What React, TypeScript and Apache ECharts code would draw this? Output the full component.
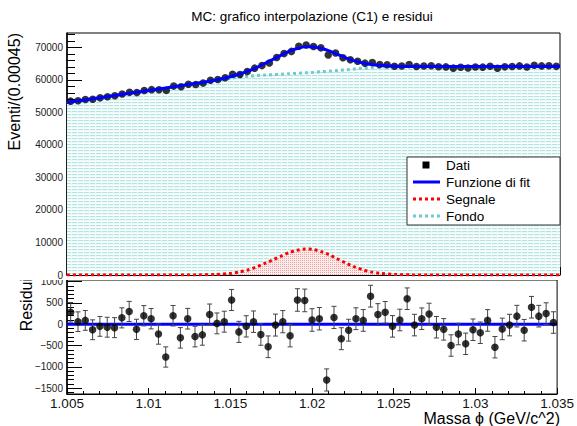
import React, { useEffect, useRef } from "react";
import * as echarts from "echarts";

// Histogram binning of the mass spectrum
const massMin = 1.005;
const massMax = 1.035;
const nBins = 67;

// Counts per bin (Dati)
const counts = [
  53450, 53560, 53930, 54050, 54460, 54780, 55100, 55670, 56150, 56070,
  56730, 56990, 56970, 56760, 58070, 57880, 58670, 58590, 59000, 59890,
  60120, 60640, 61720, 61660, 62550, 63590, 64380, 65200, 66860, 68060,
  68740, 70300, 70700, 70230, 69830, 67670, 68240, 66800, 66150, 65720,
  65130, 65340, 64680, 64610, 64160, 64270, 64740, 64080, 64230, 64340,
  64030, 63980, 63600, 63870, 63640, 63970, 63900, 64190, 63560, 63990,
  64080, 64290, 63960, 64500, 64290, 64350, 64140,
];

// Residuals (data - fit) per bin
const residuals = [
  280, 60, 90, -130, -50, -70, -80, 150, 300, -120,
  200, 130, -230, -770, 200, -320, 130, -290, -250, 230,
  20, 60, 570, -180, -50, 60, -240, -530, -20, 60,
  -270, 570, 560, 100, 130, -1310, 160, -340, -140, 130,
  90, 660, 230, 280, -50, 100, 600, -20, 130, 240,
  -70, -120, -500, -230, -460, -130, -200, 90, -540, -110,
  -20, 190, -140, 400, 190, 250, 40,
];

// Statistical errors on the residuals
const errors = [
  231, 231, 232, 233, 233, 234, 235,
  236, 237, 237, 238, 239, 239, 238,
  241, 241, 242, 242, 243, 245, 245, 246,
  248, 248, 250, 252, 254, 255, 258, 261, 262,
  265, 266, 265, 264, 260, 261, 258, 257, 256, 255,
  256, 254, 254, 253, 254, 254, 253, 253, 254, 253,
  253, 252, 253, 252, 253, 253, 254, 252, 253, 253,
  254, 253, 254, 254, 254, 253,
];

// Sampled fit components
const curveMass = [
  1.005, 1.007, 1.009, 1.011, 1.013, 1.014, 1.015, 1.0155, 1.016, 1.0165,
  1.017, 1.0175, 1.018, 1.0185, 1.019, 1.0195, 1.02, 1.0205, 1.021, 1.0215,
  1.022, 1.0225, 1.023, 1.0235, 1.024, 1.025, 1.026, 1.027, 1.029, 1.031,
  1.033, 1.035,
];
const backgroundCurve = [
  53000, 54500, 56000, 57500, 59000, 59750, 60500, 60850, 61100, 61300,
  61450, 61600, 61750, 61880, 62000, 62150, 62300, 62500, 62700, 62900,
  63100, 63350, 63550, 63750, 63900, 64050, 64100, 64100, 64100, 64100,
  64100, 64100,
];
const signalCurve = [
  0, 0, 0, 0, 30, 150, 540, 950, 1550, 2400,
  3500, 4600, 5750, 6850, 7620, 7990, 7830, 7150, 6100, 4850,
  3600, 2500, 1610, 970, 550, 140, 30, 0, 0, 0,
  0, 0,
];
const fitCurve = [
  53000, 54500, 56000, 57500, 59030, 59900, 61040, 61800, 62650, 63700,
  64950, 66200, 67500, 68730, 69620, 70140, 70130, 69650, 68800, 67750,
  66700, 65850, 65160, 64720, 64450, 64190, 64130, 64100, 64100, 64100,
  64100, 64100,
];

// Axis ticks
const xMajorTicks = [1.005, 1.01, 1.015, 1.02, 1.025, 1.03, 1.035];
const yMajorTicks = [0, 10000, 20000, 30000, 40000, 50000, 60000, 70000];
const residMajorTicks = [-1500, -1000, -500, 0, 500, 1000];

const xMinorTicks: number[] = [];
for (let k = 0; k <= 30; k++) xMinorTicks.push(Number((massMin + k * 0.001).toFixed(4)));
const yMinorTicks: number[] = [];
for (let v = 0; v <= 74000; v += 2000) yMinorTicks.push(v);
const residMinorTicks: number[] = [];
for (let v = -1600; v <= 1000; v += 100) residMinorTicks.push(v);

const titleText = "MC: grafico interpolazione (C1) e residui";
const FONT = '"Liberation Sans", Arial, Helvetica, sans-serif';

function makePattern(w: number, h: number, paint: (ctx: CanvasRenderingContext2D) => void) {
  const c = document.createElement("canvas");
  c.width = w;
  c.height = h;
  const ctx = c.getContext("2d")!;
  paint(ctx);
  return c;
}

function txt(x: number, y: number, text: string, size: number, align: string, vAlign: string, rotation = 0, z = 100) {
  return {
    type: "text",
    x,
    y,
    rotation,
    z,
    style: {
      text,
      fill: "#000",
      fontSize: size,
      fontFamily: FONT,
      align,
      textAlign: align,
      verticalAlign: vAlign,
      textVerticalAlign: vAlign,
    },
  };
}

export default function App() {
  const upperRef = useRef<HTMLDivElement>(null);
  const lowerRef = useRef<HTMLDivElement>(null);

  useEffect(() => {
    const binWidth = (massMax - massMin) / nBins;
    const binCenters = counts.map((_, i) => massMin + (i + 0.5) * binWidth);

    const cyanHatch = makePattern(6, 3, (ctx) => {
      ctx.fillStyle = "rgb(238,250,250)";
      ctx.fillRect(0, 0, 6, 3);
      ctx.fillStyle = "rgb(178,228,228)";
      ctx.fillRect(0, 0, 5, 1);
      ctx.fillStyle = "rgb(252,254,254)";
      ctx.fillRect(0, 2, 6, 1);
    });
    const redHatch = makePattern(2, 2, (ctx) => {
      ctx.fillStyle = "rgb(252,234,234)";
      ctx.fillRect(0, 0, 2, 2);
      ctx.fillStyle = "rgb(240,165,165)";
      ctx.fillRect(0, 0, 1, 1);
    });

    const labelFmt = (v: number) => String(Number(v.toFixed(3)));
    const intFmt = (v: number) => (v < 0 ? "\u2212" + Math.abs(v) : String(v));

    const xAxisPair = (showLabels: boolean, majorLen: number, minorLen: number) => [
      {
        type: "value",
        min: massMin,
        max: massMax,
        position: "bottom",
        axisLine: { show: true, onZero: false, lineStyle: { color: "#000", width: 1 } },
        axisTick: { show: true, inside: true, length: majorLen, customValues: xMajorTicks, lineStyle: { color: "#000" } },
        axisLabel: {
          show: showLabels,
          customValues: xMajorTicks,
          formatter: labelFmt,
          fontSize: 13.5,
          fontFamily: FONT,
          color: "#111",
          margin: 2,
        },
        splitLine: { show: false },
      },
      {
        type: "value",
        min: massMin,
        max: massMax,
        position: "bottom",
        axisLine: { show: false, onZero: false },
        axisTick: { show: true, inside: true, length: minorLen, customValues: xMinorTicks, lineStyle: { color: "#000" } },
        axisLabel: { show: false },
        splitLine: { show: false },
      },
    ];

    const yAxisPair = (min: number, max: number, major: number[], minor: number[], majorLen: number, minorLen: number) => [
      {
        type: "value",
        min,
        max,
        position: "left",
        axisLine: { show: true, onZero: false, lineStyle: { color: "#000", width: 1.5 } },
        axisTick: { show: true, inside: true, length: majorLen, customValues: major, lineStyle: { color: "#000" } },
        axisLabel: { customValues: major, formatter: intFmt, fontSize: 10, fontFamily: FONT, color: "#222", margin: 4 },
        splitLine: { show: false },
      },
      {
        type: "value",
        min,
        max,
        position: "left",
        axisLine: { show: false, onZero: false },
        axisTick: { show: true, inside: true, length: minorLen, customValues: minor, lineStyle: { color: "#000" } },
        axisLabel: { show: false },
        splitLine: { show: false },
      },
    ];

    const upper = echarts.init(upperRef.current!, null, { renderer: "svg" });
    upper.setOption({
      animation: false,
      grid: { left: 67, top: 33, width: 493, height: 244, show: true, borderColor: "#000", borderWidth: 1 },
      xAxis: xAxisPair(false, 8, 4),
      yAxis: yAxisPair(0, 74400, yMajorTicks, yMinorTicks, 15, 8),
      series: [
        {
          type: "line",
          name: "Fondo",
          data: curveMass.map((m, i) => [m, backgroundCurve[i]]),
          smooth: 0.3,
          symbol: "none",
          z: 1,
          lineStyle: { color: "#70cccc", width: 3, type: [3, 3] },
          areaStyle: { color: { image: cyanHatch, repeat: "repeat" }, opacity: 1, origin: "start" },
        },
        {
          type: "line",
          name: "Segnale",
          data: curveMass.map((m, i) => [m, signalCurve[i]]),
          smooth: 0.3,
          symbol: "none",
          z: 2,
          lineStyle: { color: "#ff0000", width: 3, type: [3, 3] },
          areaStyle: { color: { image: redHatch, repeat: "repeat" }, opacity: 1, origin: "start" },
        },
        {
          type: "scatter",
          name: "Dati",
          data: binCenters.map((c, i) => [c, counts[i]]),
          symbol: "circle",
          symbolSize: 7.5,
          z: 3,
          itemStyle: { color: "#000" },
        },
        {
          type: "line",
          name: "Funzione di fit",
          data: curveMass.map((m, i) => [m, fitCurve[i]]),
          smooth: 0.3,
          symbol: "none",
          z: 4,
          lineStyle: { color: "#0000ff", width: 3 },
        },
      ],
      graphic: [
        txt(312, 16, titleText, 13.5, "center", "middle"),
        txt(14, 33, "Eventi/(0.00045)", 16, "right", "middle", Math.PI / 2),
        {
          type: "rect",
          z: 100,
          shape: { x: 407, y: 157, width: 153, height: 68 },
          style: { fill: "#fff", stroke: "#333", lineWidth: 1 },
        },
        {
          type: "rect",
          z: 101,
          shape: { x: 422.5, y: 161.5, width: 7, height: 7 },
          style: { fill: "#000" },
        },
        txt(446, 165, "Dati", 13.5, "left", "middle", 0, 101),
        {
          type: "line",
          z: 101,
          shape: { x1: 413, y1: 182, x2: 440, y2: 182 },
          style: { stroke: "#0000ff", lineWidth: 3 },
        },
        txt(446, 182, "Funzione di fit", 13.5, "left", "middle", 0, 101),
        {
          type: "line",
          z: 101,
          shape: { x1: 413, y1: 199, x2: 440, y2: 199 },
          style: { stroke: "#ff0000", lineWidth: 3, lineDash: [3, 3] },
        },
        txt(446, 199, "Segnale", 13.5, "left", "middle", 0, 101),
        {
          type: "line",
          z: 101,
          shape: { x1: 413, y1: 216, x2: 440, y2: 216 },
          style: { stroke: "#70cccc", lineWidth: 3, lineDash: [3, 3] },
        },
        txt(446, 216, "Fondo", 13.5, "left", "middle", 0, 101),
      ],
    });

    const lower = echarts.init(lowerRef.current!, null, { renderer: "svg" });
    lower.setOption({
      animation: false,
      grid: { left: 67, top: 280, width: 493, height: 114, show: true, borderColor: "#000", borderWidth: 1 },
      xAxis: xAxisPair(true, 6, 3),
      yAxis: yAxisPair(-1640, 1040, residMajorTicks, residMinorTicks, 15, 7),
      series: [
        {
          type: "line",
          name: "zero",
          data: [
            [massMin, 0],
            [massMax, 0],
          ],
          symbol: "none",
          z: 1,
          lineStyle: { color: "#0000ff", width: 3 },
        },
        {
          type: "custom",
          name: "errori",
          z: 2,
          data: binCenters.map((c, i) => [c, residuals[i], errors[i]]),
          encode: { x: 0, y: 1 },
          renderItem: (_params: any, api: any) => {
            const x = api.value(0);
            const y = api.value(1);
            const e = api.value(2);
            const top = api.coord([x, y + e]);
            const bot = api.coord([x, y - e]);
            const cap = 2.5;
            const st = { stroke: "#444", lineWidth: 1 };
            return {
              type: "group",
              children: [
                { type: "line", shape: { x1: top[0], y1: top[1], x2: bot[0], y2: bot[1] }, style: st },
                { type: "line", shape: { x1: top[0] - cap, y1: top[1], x2: top[0] + cap, y2: top[1] }, style: st },
                { type: "line", shape: { x1: bot[0] - cap, y1: bot[1], x2: bot[0] + cap, y2: bot[1] }, style: st },
              ],
            };
          },
        },
        {
          type: "scatter",
          name: "Residui",
          data: binCenters.map((c, i) => [c, residuals[i]]),
          symbol: "circle",
          symbolSize: 7.5,
          z: 3,
          itemStyle: { color: "#000" },
        },
      ],
      graphic: [
        txt(26.5, 278, "Residui", 16, "right", "middle", Math.PI / 2),
        txt(560, 418.5, "Massa \u03D5 (GeV/c^2)", 16, "right", "middle"),
      ],
    });

    return () => {
      upper.dispose();
      lower.dispose();
    };
  }, []);

  return (
    <div style={{ position: "absolute", left: 0, top: 0, width: 577, height: 426, background: "#fff" }}>
      <div ref={lowerRef} style={{ position: "absolute", left: 0, top: 0, width: 577, height: 426 }} />
      <div ref={upperRef} style={{ position: "absolute", left: 0, top: 0, width: 577, height: 280, background: "#fff" }} />
    </div>
  );
}
